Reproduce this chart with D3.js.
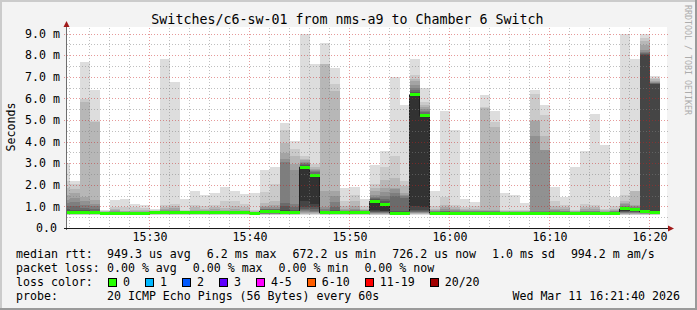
<!DOCTYPE html>
<html>
<head>
<meta charset="utf-8">
<script src="https://cdn.jsdelivr.net/npm/d3@7"></script>
<style>
  body { margin: 0; background: #f3f3f3; }
  text { font-family: "DejaVu Sans Mono", monospace; }
</style>
</head>
<body>
<svg id="chart" width="697" height="310"></svg>
<script>
// one bar per minute, 20 sorted ping rtts (ms) each, median is drawn separately
const minutes = [
  "15:21", "15:22", "15:23", "15:24", "15:25", "15:26", "15:27", "15:28", "15:29", "15:30",
  "15:31", "15:32", "15:33", "15:34", "15:35", "15:36", "15:37", "15:38", "15:39", "15:40",
  "15:41", "15:42", "15:43", "15:44", "15:45", "15:46", "15:47", "15:48", "15:49", "15:50",
  "15:51", "15:52", "15:53", "15:54", "15:55", "15:56", "15:57", "15:58", "15:59", "16:00",
  "16:01", "16:02", "16:03", "16:04", "16:05", "16:06", "16:07", "16:08", "16:09", "16:10",
  "16:11", "16:12", "16:13", "16:14", "16:15", "16:16", "16:17", "16:18", "16:19", "16:20"
];

const medians = [
  0.70, 0.71, 0.70, 0.70, 0.68, 0.68, 0.68, 0.69, 0.69, 0.70,
  0.70, 0.70, 0.70, 0.70, 0.70, 0.70, 0.70, 0.70, 0.70, 0.67,
  0.77, 0.77, 0.70, 0.70, 2.82, 2.43, 0.70, 0.70, 0.70, 0.70,
  0.73, 1.23, 1.11, 0.69, 0.69, 6.17, 5.20, 0.69, 0.69, 0.69,
  0.69, 0.69, 0.69, 0.69, 0.69, 0.69, 0.69, 0.69, 0.69, 0.69,
  0.69, 0.69, 0.69, 0.69, 0.69, 0.69, 0.88, 0.85, 0.75, 0.73
];

const pings = [
  [0.60,0.62,0.63,0.64,0.65,0.66,0.67,0.68,0.68,0.69, 0.70, 0.78,0.88,1.00,1.15,1.30,1.55,1.85,2.16,3.00],
  [0.60,0.62,0.63,0.64,0.65,0.66,0.67,0.68,0.69,0.70, 0.71, 0.78,0.85,1.00,1.19,1.40,1.62,1.80,2.04,2.19],
  [0.60,0.62,0.63,0.64,0.65,0.66,0.67,0.68,0.68,0.69, 0.70, 0.76,0.82,0.92,1.05,1.23,1.42,5.82,5.99,7.67],
  [0.60,0.62,0.63,0.64,0.65,0.66,0.67,0.68,0.68,0.69, 0.70, 0.75,0.80,0.90,1.00,1.13,1.31,4.90,4.95,6.37],
  [0.59,0.60,0.61,0.62,0.63,0.64,0.65,0.66,0.67,0.67, 0.68, 0.69,0.70,0.71,0.72,0.73,0.75,0.77,0.80,0.85],
  [0.59,0.60,0.61,0.62,0.63,0.64,0.65,0.66,0.67,0.67, 0.68, 0.70,0.71,0.73,0.76,0.80,0.84,0.90,0.96,1.31],
  [0.59,0.60,0.61,0.62,0.63,0.64,0.65,0.66,0.67,0.67, 0.68, 0.70,0.71,0.72,0.74,0.76,0.78,0.80,0.96,1.36],
  [0.60,0.61,0.62,0.63,0.64,0.65,0.66,0.67,0.68,0.68, 0.69, 0.70,0.71,0.72,0.74,0.76,0.80,0.85,0.96,1.11],
  [0.60,0.61,0.62,0.63,0.64,0.65,0.66,0.67,0.68,0.68, 0.69, 0.70,0.71,0.72,0.74,0.76,0.80,0.84,0.92,1.08],
  [0.60,0.62,0.63,0.64,0.65,0.66,0.67,0.68,0.68,0.69, 0.70, 0.70,0.71,0.72,0.73,0.74,0.76,0.78,0.82,0.90],
  [0.60,0.62,0.63,0.64,0.65,0.66,0.67,0.68,0.68,0.69, 0.70, 0.71,0.73,0.76,0.80,0.84,0.90,0.98,1.05,7.84],
  [0.60,0.62,0.63,0.64,0.65,0.66,0.67,0.68,0.68,0.69, 0.70, 0.71,0.73,0.76,0.80,0.85,0.92,1.00,1.11,6.77],
  [0.60,0.62,0.63,0.64,0.65,0.66,0.67,0.68,0.68,0.69, 0.70, 0.71,0.72,0.73,0.74,0.75,0.77,0.80,0.85,1.36],
  [0.60,0.62,0.63,0.64,0.65,0.66,0.67,0.68,0.68,0.69, 0.70, 0.71,0.73,0.75,0.77,0.80,0.85,0.95,1.08,1.70],
  [0.60,0.62,0.63,0.64,0.65,0.66,0.67,0.68,0.68,0.69, 0.70, 0.71,0.73,0.75,0.77,0.80,0.84,0.90,1.00,1.54],
  [0.60,0.62,0.63,0.64,0.65,0.66,0.67,0.68,0.68,0.69, 0.70, 0.71,0.73,0.75,0.77,0.80,0.86,0.95,1.08,1.64],
  [0.60,0.62,0.63,0.64,0.65,0.66,0.67,0.68,0.68,0.69, 0.70, 0.71,0.73,0.75,0.77,0.80,0.85,0.93,1.27,1.88],
  [0.60,0.62,0.63,0.64,0.65,0.66,0.67,0.68,0.68,0.69, 0.70, 0.71,0.73,0.75,0.77,0.80,0.88,1.00,1.27,1.70],
  [0.60,0.62,0.63,0.64,0.65,0.66,0.67,0.68,0.68,0.69, 0.70, 0.71,0.73,0.75,0.77,0.80,0.85,0.95,1.11,1.57],
  [0.58,0.59,0.60,0.61,0.62,0.63,0.64,0.65,0.66,0.66, 0.67, 0.68,0.69,0.70,0.71,0.72,0.74,0.78,0.85,1.64],
  [0.60,0.62,0.63,0.64,0.65,0.66,0.68,0.70,0.72,0.74, 0.77, 0.80,0.83,0.86,0.90,0.95,1.02,1.17,1.65,2.70],
  [0.60,0.62,0.63,0.64,0.65,0.66,0.68,0.70,0.72,0.74, 0.77, 0.80,0.83,0.86,0.90,0.95,1.05,1.25,2.05,2.84],
  [0.60,0.62,0.63,0.64,0.65,0.66,0.67,0.68,0.68,0.69, 0.70, 0.85,1.00,1.17,3.06,3.20,3.49,3.95,4.52,4.88],
  [0.60,0.62,0.63,0.64,0.65,0.66,0.67,0.68,0.68,0.69, 0.70, 0.78,0.85,0.95,1.10,2.67,2.95,3.33,3.64,4.03],
  [0.60,0.64,0.67,0.70,0.74,0.78,0.82,0.90,0.98,1.25, 2.82, 2.86,2.90,2.95,3.00,3.06,3.13,3.21,3.33,8.97],
  [0.60,0.63,0.66,0.69,0.72,0.76,0.80,0.88,0.95,1.13, 2.43, 2.48,2.52,2.57,2.62,2.68,2.75,2.82,2.98,7.58],
  [0.60,0.62,0.63,0.64,0.65,0.66,0.67,0.68,0.68,0.69, 0.70, 0.72,0.76,0.80,0.86,0.95,1.71,7.58,7.61,8.58],
  [0.60,0.62,0.63,0.64,0.65,0.66,0.67,0.68,0.68,0.69, 0.70, 0.76,0.85,0.95,1.20,1.50,1.71,6.34,6.65,7.42],
  [0.60,0.62,0.63,0.64,0.65,0.66,0.67,0.68,0.68,0.69, 0.70, 0.71,0.73,0.76,0.80,0.85,0.90,1.00,1.25,1.87],
  [0.60,0.62,0.63,0.64,0.65,0.66,0.67,0.68,0.68,0.69, 0.70, 0.72,0.74,0.77,0.82,0.90,1.00,1.23,1.54,1.91],
  [0.60,0.62,0.63,0.64,0.65,0.66,0.67,0.68,0.70,0.71, 0.73, 0.74,0.75,0.77,0.79,0.82,0.85,0.90,1.00,1.36],
  [0.60,0.62,0.64,0.66,0.68,0.70,0.72,0.74,0.78,0.85, 1.23, 1.28,1.33,1.39,1.45,1.54,1.70,1.85,2.04,2.93],
  [0.60,0.62,0.64,0.66,0.68,0.70,0.72,0.74,0.77,0.80, 1.11, 1.17,1.25,1.35,1.50,1.65,1.85,2.24,2.81,3.58],
  [0.60,0.61,0.62,0.63,0.64,0.65,0.66,0.67,0.68,0.68, 0.69, 0.73,0.77,1.47,1.60,1.80,1.85,2.31,3.32,6.99],
  [0.60,0.61,0.62,0.63,0.64,0.65,0.66,0.67,0.68,0.68, 0.69, 0.73,0.77,1.40,1.47,1.55,1.62,1.94,2.16,5.71],
  [0.60,0.63,0.65,0.68,0.70,0.73,0.76,0.80,0.85,1.00, 6.17, 6.22,6.30,6.40,6.48,6.60,6.79,6.91,7.10,7.84],
  [0.60,0.63,0.65,0.68,0.70,0.73,0.76,0.80,0.85,0.95, 5.20, 5.25,5.30,5.35,5.42,5.50,5.62,5.71,5.83,6.48],
  [0.60,0.61,0.62,0.63,0.64,0.65,0.66,0.67,0.68,0.68, 0.69, 0.71,0.73,0.75,0.77,0.80,0.84,0.90,1.03,1.70],
  [0.60,0.61,0.62,0.63,0.64,0.65,0.66,0.67,0.68,0.68, 0.69, 0.72,0.74,0.77,0.81,0.87,0.95,1.08,1.42,5.43],
  [0.60,0.61,0.62,0.63,0.64,0.65,0.66,0.67,0.68,0.68, 0.69, 0.71,0.73,0.75,0.78,0.82,0.88,0.95,1.08,4.55],
  [0.60,0.61,0.62,0.63,0.64,0.65,0.66,0.67,0.68,0.68, 0.69, 0.71,0.73,0.75,0.77,0.80,0.83,0.88,0.96,1.33],
  [0.60,0.61,0.62,0.63,0.64,0.65,0.66,0.67,0.68,0.68, 0.69, 0.71,0.73,0.75,0.77,0.80,0.84,0.90,1.00,1.22],
  [0.60,0.61,0.62,0.63,0.64,0.65,0.66,0.67,0.68,0.68, 0.69, 0.71,0.73,0.75,0.77,0.80,0.85,5.55,5.59,6.14],
  [0.60,0.61,0.62,0.63,0.64,0.65,0.66,0.67,0.68,0.68, 0.69, 0.71,0.73,0.75,0.77,0.80,0.85,4.66,4.89,5.43],
  [0.60,0.61,0.62,0.63,0.64,0.65,0.66,0.67,0.68,0.68, 0.69, 0.71,0.72,0.73,0.74,0.75,0.77,0.80,0.85,1.64],
  [0.60,0.61,0.62,0.63,0.64,0.65,0.66,0.67,0.68,0.68, 0.69, 0.71,0.72,0.73,0.74,0.75,0.77,0.80,0.85,1.54],
  [0.60,0.61,0.62,0.63,0.64,0.65,0.66,0.67,0.68,0.68, 0.69, 0.71,0.72,0.73,0.74,0.75,0.77,0.80,0.85,1.17],
  [0.60,0.61,0.62,0.63,0.64,0.65,0.66,0.67,0.68,0.68, 0.69, 0.72,0.74,0.76,0.80,4.27,4.96,4.98,6.22,6.40],
  [0.60,0.61,0.62,0.63,0.64,0.65,0.66,0.67,0.68,0.68, 0.69, 0.72,0.74,0.76,0.80,3.62,3.63,4.24,5.25,5.71],
  [0.60,0.61,0.62,0.63,0.64,0.65,0.66,0.67,0.68,0.68, 0.69, 0.71,0.73,0.75,0.78,0.82,0.90,1.00,1.27,1.88],
  [0.60,0.61,0.62,0.63,0.64,0.65,0.66,0.67,0.68,0.68, 0.69, 0.71,0.73,0.75,0.77,0.80,0.86,0.95,1.08,1.42],
  [0.60,0.61,0.62,0.63,0.64,0.65,0.66,0.67,0.68,0.68, 0.69, 0.71,0.72,0.73,0.74,0.75,0.77,0.80,0.85,2.81],
  [0.60,0.61,0.62,0.63,0.64,0.65,0.66,0.67,0.68,0.68, 0.69, 0.71,0.73,0.75,0.77,0.80,0.86,0.95,1.11,3.55],
  [0.60,0.61,0.62,0.63,0.64,0.65,0.66,0.67,0.68,0.68, 0.69, 0.71,0.73,0.75,0.77,0.80,0.86,0.95,1.08,5.29],
  [0.60,0.61,0.62,0.63,0.64,0.65,0.66,0.67,0.68,0.68, 0.69, 0.71,0.72,0.73,0.74,0.76,0.78,0.82,0.90,3.83],
  [0.60,0.61,0.62,0.63,0.64,0.65,0.66,0.67,0.68,0.68, 0.69, 0.71,0.73,0.75,0.77,0.80,0.84,0.90,1.00,1.42],
  [0.60,0.62,0.64,0.66,0.68,0.70,0.72,0.74,0.77,0.80, 0.88, 0.91,0.94,0.98,1.02,1.10,1.18,1.27,1.54,8.98],
  [0.60,0.62,0.64,0.66,0.68,0.70,0.72,0.74,0.77,0.80, 0.85, 0.87,0.90,0.92,0.95,1.00,1.08,1.70,1.73,7.84],
  [0.60,0.62,0.64,0.65,0.66,0.68,0.69,0.70,0.72,0.73, 0.75, 8.02,8.06,8.10,8.15,8.26,8.49,8.64,8.80,8.98],
  [0.60,0.62,0.63,0.64,0.65,0.66,0.68,0.69,0.70,0.71, 0.73, 6.66,6.68,6.70,6.72,6.75,6.80,6.88,6.95,7.02]
];

const yTicks = [0, 1, 2, 3, 4, 5, 6, 7, 8, 9];
const lossLabels = ["0", "1", "2", "3", "4-5", "6-10", "11-19", "20/20"];
const lossColors = ["#26ff00", "#00b8ff", "#0059ff", "#5e00ff", "#ff00ff", "#ff5e00", "#ff0000", "#a10000"];
const rttStats = ["949.3 us avg", "6.2 ms max", "672.2 us min", "726.2 us now", "1.0 ms sd", "994.2 m am/s"];
const lossStats = ["0.00 % avg", "0.00 % max", "0.00 % min", "0.00 % now"];

const W = 697, H = 310;
const plot = { left: 67, right: 667, top: 28, bottom: 228 };
const yMax = 9.26;
const charW = 6.98;

const svg = d3.select("#chart");

// frame with rrdtool style shading
svg.append("rect").attr("width", W).attr("height", H).attr("fill", "#f3f3f3");
svg.append("rect").attr("width", W).attr("height", 2).attr("fill", "#cbcbcb");
svg.append("rect").attr("width", 2).attr("height", H).attr("fill", "#cbcbcb");
svg.append("rect").attr("y", H - 2).attr("width", W).attr("height", 2).attr("fill", "#9a9a9a");
svg.append("rect").attr("x", W - 2).attr("width", 2).attr("height", H).attr("fill", "#9a9a9a");

svg.append("rect")
    .attr("x", plot.left).attr("y", plot.top - 1)
    .attr("width", plot.right - plot.left).attr("height", plot.bottom - plot.top + 1)
    .attr("fill", "#ffffff");

svg.append("clipPath").attr("id", "plotclip")
    .append("rect")
    .attr("x", plot.left).attr("y", plot.top - 1)
    .attr("width", plot.right - plot.left).attr("height", plot.bottom - plot.top + 1);

const parseM = d3.timeParse("%H:%M");
const parseS = d3.timeParse("%H:%M:%S");

const x = d3.scaleTime()
    .domain([parseS("15:21:42"), parseS("16:21:42")])
    .range([plot.left, plot.right]);

const y = d3.scaleLinear()
    .domain([0, yMax])
    .range([plot.bottom, plot.top]);

// smokeping gray: outer pair lightest, inner pair darkest
function smokeColor(k) {
    var c = Math.floor(190 / 10 * (9 - k)) + 50;
    return d3.rgb(c, c, c).formatHex();
}

const bars = minutes.map(function (m, i) {
    var t0 = parseM(m);
    return { t0: t0, t1: d3.timeMinute.offset(t0, 1), p: pings[i], med: medians[i] };
});

const layers = [];
bars.forEach(function (b) {
    for (var k = 0; k < 10; k++) {
        layers.push({ t0: b.t0, t1: b.t1, lo: b.p[k], hi: b.p[19 - k], k: k });
    }
});

const dataG = svg.append("g").attr("clip-path", "url(#plotclip)");

dataG.append("g").attr("shape-rendering", "crispEdges")
    .selectAll("rect").data(layers)
    .enter().append("rect")
    .attr("x", function (d) { return x(d.t0); })
    .attr("width", function (d) { return x(d.t1) - x(d.t0); })
    .attr("y", function (d) { return y(d.hi); })
    .attr("height", function (d) { return y(d.lo) - y(d.hi); })
    .attr("fill", function (d) { return smokeColor(d.k); });

// median rtt as a step line, loss coloured band on top of it
const medPts = bars.map(function (b) { return { t: b.t0, v: b.med }; });
medPts.push({ t: bars[bars.length - 1].t1, v: bars[bars.length - 1].med });

dataG.append("path")
    .datum(medPts)
    .attr("fill", "none")
    .attr("stroke", "#202020")
    .attr("stroke-width", 1)
    .attr("d", d3.line()
        .x(function (d) { return Math.round(x(d.t)) - 0.5; })
        .y(function (d) { return y(d.v); })
        .curve(d3.curveStepAfter));

dataG.append("g").attr("shape-rendering", "crispEdges")
    .selectAll("rect").data(bars)
    .enter().append("rect")
    .attr("x", function (d) { return x(d.t0); })
    .attr("width", function (d) { return x(d.t1) - x(d.t0); })
    .attr("y", function (d) { return y(d.med) - 1.5; })
    .attr("height", 3)
    .attr("fill", lossColors[0]);

// grid, drawn over the data like rrdtool does
const gridG = svg.append("g").attr("shape-rendering", "crispEdges");
const majorT = x.ticks(d3.timeMinute.every(10));
const minorT = x.ticks(d3.timeMinute.every(2)).filter(function (t) { return t.getMinutes() % 10 != 0; });
const minorV = y.ticks(20).filter(function (v) { return v > 0 && v % 1 != 0; });

gridG.selectAll(".vminor").data(minorT).enter().append("line")
    .attr("x1", function (d) { return Math.round(x(d)) - 0.5; })
    .attr("x2", function (d) { return Math.round(x(d)) - 0.5; })
    .attr("y1", plot.top).attr("y2", plot.bottom)
    .attr("stroke", "rgba(128,128,128,0.5)").attr("stroke-dasharray", "1,2");

gridG.selectAll(".hminor").data(minorV).enter().append("line")
    .attr("x1", plot.left).attr("x2", plot.right + 2)
    .attr("y1", function (d) { return Math.round(y(d)) + 0.5; })
    .attr("y2", function (d) { return Math.round(y(d)) + 0.5; })
    .attr("stroke", "rgba(128,128,128,0.5)").attr("stroke-dasharray", "1,2");

gridG.selectAll(".vmajor").data(majorT).enter().append("line")
    .attr("x1", function (d) { return Math.round(x(d)) - 0.5; })
    .attr("x2", function (d) { return Math.round(x(d)) - 0.5; })
    .attr("y1", plot.top).attr("y2", plot.bottom + 3)
    .attr("stroke", "rgba(200,30,30,0.45)").attr("stroke-dasharray", "1,2");

gridG.selectAll(".hmajor").data(yTicks.slice(1)).enter().append("line")
    .attr("x1", plot.left - 3).attr("x2", plot.right + 2)
    .attr("y1", function (d) { return Math.round(y(d)) + 0.5; })
    .attr("y2", function (d) { return Math.round(y(d)) + 0.5; })
    .attr("stroke", "rgba(200,30,30,0.45)").attr("stroke-dasharray", "1,2");

// axes
const axisG = svg.append("g").attr("shape-rendering", "crispEdges");
axisG.append("line")
    .attr("x1", plot.left - 0.5).attr("x2", plot.left - 0.5)
    .attr("y1", plot.bottom + 2).attr("y2", plot.top - 2)
    .attr("stroke", "#6e6e6e");
axisG.append("line")
    .attr("x1", plot.left - 3).attr("x2", plot.right + 2)
    .attr("y1", plot.bottom + 0.5).attr("y2", plot.bottom + 0.5)
    .attr("stroke", "#1a1a1a");

svg.append("path")
    .attr("d", "M" + (plot.left - 3.5) + "," + (plot.top - 1) + "L" + (plot.left + 2.5) + "," + (plot.top - 1) + "L" + (plot.left - 0.5) + "," + (plot.top - 7) + "Z")
    .attr("fill", "#a11a1a");
svg.append("path")
    .attr("d", "M" + (plot.right + 1) + "," + (plot.bottom - 2.5) + "L" + (plot.right + 1) + "," + (plot.bottom + 3.5) + "L" + (plot.right + 7) + "," + (plot.bottom + 0.5) + "Z")
    .attr("fill", "#a11a1a");

const xAxis = d3.axisBottom(x)
    .tickValues(majorT)
    .tickFormat(d3.timeFormat("%H:%M"))
    .tickSize(0)
    .tickPadding(5);

const xg = svg.append("g")
    .attr("transform", "translate(0," + plot.bottom + ")")
    .call(xAxis);
xg.select(".domain").remove();
xg.attr("font-family", "DejaVu Sans Mono").attr("font-size", 11.6);
xg.selectAll("text").attr("fill", "#000").attr("x", -0.5);

const yAxis = d3.axisLeft(y)
    .tickValues(yTicks)
    .tickFormat(function (v) { return v == 0 ? "0.0" : v.toFixed(1) + " m"; })
    .tickSize(0)
    .tickPadding(7);

const yg = svg.append("g")
    .attr("transform", "translate(" + plot.left + ",0)")
    .call(yAxis);
yg.select(".domain").remove();
yg.attr("font-family", "DejaVu Sans Mono").attr("font-size", 11.6);
yg.selectAll("text").attr("fill", "#000")
    .attr("x", function (d) { return d == 0 ? -10 : -7; });

// titles
svg.append("text")
    .attr("x", 347.5).attr("y", 23.5)
    .attr("text-anchor", "middle")
    .attr("font-size", 13.3)
    .text("Switches/c6-sw-01 from nms-a9 to Chamber 6 Switch");

svg.append("text")
    .attr("transform", "translate(15,127) rotate(-90)")
    .attr("text-anchor", "middle")
    .attr("font-size", 11.6)
    .text("Seconds");

svg.append("text")
    .attr("transform", "translate(684.5,5) rotate(90)")
    .attr("font-size", 8.3)
    .attr("fill", "#acacac")
    .text("RRDTOOL / TOBI OETIKER");

// legend
const leg = svg.append("g").attr("font-size", 11.6);
const rows = [257.5, 271.5, 285.5, 299.5];
const valX = 107, gap = 16;

leg.append("text").attr("x", 16).attr("y", rows[0]).text("median rtt:");
leg.append("text").attr("x", 16).attr("y", rows[1]).text("packet loss:");
leg.append("text").attr("x", 16).attr("y", rows[2]).text("loss color:");
leg.append("text").attr("x", 16).attr("y", rows[3]).text("probe:");

function placeRow(items, rowY) {
    var cx = valX;
    items.forEach(function (s) {
        leg.append("text").attr("x", cx).attr("y", rowY).text(s);
        cx += s.length * charW + gap;
    });
}
placeRow(rttStats, rows[0]);
placeRow(lossStats, rows[1]);

var lx = 123;
lossLabels.forEach(function (s, i) {
    leg.append("rect")
        .attr("x", lx - 14.5).attr("y", rows[2] - 7.5)
        .attr("width", 8).attr("height", 8)
        .attr("fill", lossColors[i])
        .attr("stroke", "#000").attr("stroke-width", 1)
        .attr("shape-rendering", "crispEdges");
    leg.append("text").attr("x", lx).attr("y", rows[2]).text(s);
    lx += s.length * charW + 30;
});

leg.append("text").attr("x", valX).attr("y", rows[3]).text("20 ICMP Echo Pings (56 Bytes) every 60s");
leg.append("text").attr("x", 680).attr("y", rows[3]).attr("text-anchor", "end").text("Wed Mar 11 16:21:40 2026");
</script>
</body>
</html>
